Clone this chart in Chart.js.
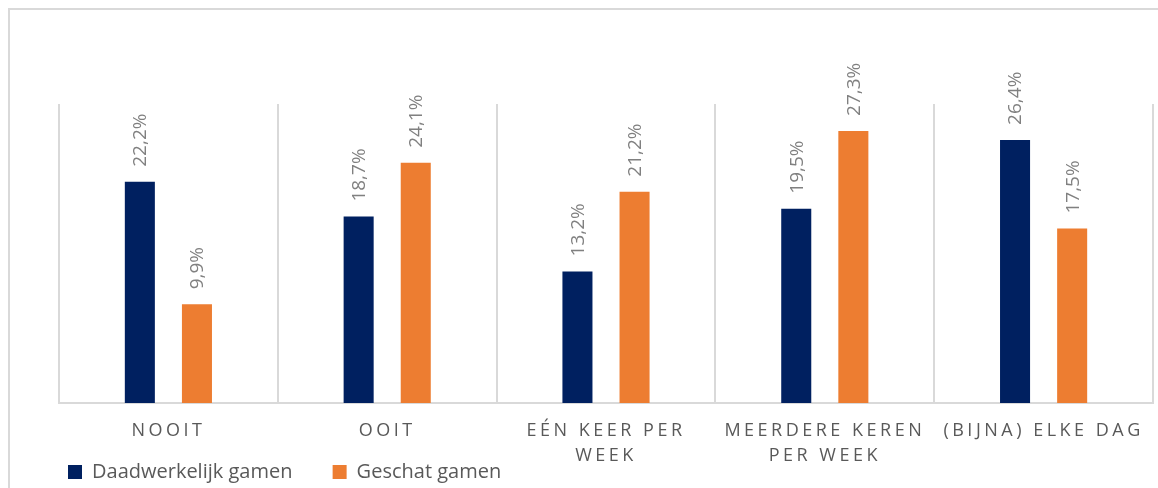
<!DOCTYPE html>
<html>
<head>
<meta charset="utf-8">
<script src="https://cdn.jsdelivr.net/npm/chart.js@4"></script>
<style>
  html, body { margin: 0; padding: 0; background: #fff; }
  #wrap { position: relative; width: 1158px; height: 488px; overflow: hidden; }
  #frame { position: absolute; left: 8px; top: 8px; width: 1300px; height: 600px; border: 2px solid #d9d9d9; }
  canvas { position: absolute; left: 0; top: 0; }
</style>
</head>
<body>
<div id="wrap">
  <div id="frame"></div>
  <canvas id="gamen" width="1158" height="488"></canvas>
</div>
<script>
// categorieen en waarden (in %)
const categories = ['NOOIT', 'OOIT', ['EÉN KEER PER', 'WEEK'], ['MEERDERE KEREN', 'PER WEEK'], '(BIJNA) ELKE DAG'];
const daadwerkelijk = [22.2, 18.7, 13.2, 19.5, 26.4];
const geschat = [9.9, 24.1, 21.2, 27.3, 17.5];
const seriesNames = ['Daadwerkelijk gamen', 'Geschat gamen'];

// category as usual, but with letter spacing on the tick labels
// and no clipping (second label line runs into the legend row)
class SpacedCategory extends Chart.CategoryScale {
  _computeLabelArea() {
    return undefined;
  }
  drawLabels(area) {
    this.ctx.save();
    this.ctx.letterSpacing = '3.5px';
    super.drawLabels(area);
    this.ctx.restore();
  }
}
SpacedCategory.id = 'spacedCategory';
SpacedCategory.defaults = Chart.CategoryScale.defaults;
Chart.register(SpacedCategory);

// rotated value labels above the bars
const valueLabels = {
  id: 'valueLabels',
  afterDatasetsDraw(chart) {
    const ctx = chart.ctx;
    ctx.save();
    ctx.fillStyle = '#808080';
    ctx.font = '19px "Open Sans"';
    ctx.textAlign = 'left';
    ctx.textBaseline = 'middle';
    chart.data.datasets.forEach((ds, i) => {
      chart.getDatasetMeta(i).data.forEach((bar, j) => {
        var txt = ds.data[j].toFixed(1).replace('.', ',') + '%';
        ctx.save();
        ctx.translate(bar.x + 1, bar.y - 15);
        ctx.rotate(-Math.PI / 2);
        ctx.fillText(txt, 0, 0);
        ctx.restore();
      });
    });
    ctx.restore();
  }
};

new Chart(document.getElementById('gamen'), {
  type: 'bar',
  data: {
    labels: categories,
    datasets: [
      { label: seriesNames[0], data: daadwerkelijk, backgroundColor: '#002060' },
      { label: seriesNames[1], data: geschat, backgroundColor: '#ED7D31' }
    ]
  },
  options: {
    responsive: false,
    animation: false,
    categoryPercentage: 0.522,
    barPercentage: 0.526,
    layout: { padding: { top: 104, left: 59, right: 5, bottom: -4 } },
    scales: {
      x: {
        type: 'spacedCategory',
        grid: { color: '#d9d9d9', lineWidth: 2, drawTicks: false, offset: true },
        border: { color: '#d9d9d9', width: 2 },
        ticks: {
          color: '#595959',
          font: { family: 'Open Sans', size: 18, lineHeight: 1.4 },
          padding: 15,
          maxRotation: 0,
          autoSkip: false
        },
        afterFit: (scale) => { scale.height = 50; }
      },
      y: {
        display: false,
        min: 0,
        max: 30
      }
    },
    plugins: {
      legend: {
        position: 'bottom',
        align: 'start',
        labels: {
          boxWidth: 14,
          boxHeight: 14,
          padding: 9,
          color: '#595959',
          font: { family: 'Open Sans', size: 20 },
          generateLabels: (chart) => {
            var items = Chart.defaults.plugins.legend.labels.generateLabels(chart);
            items[0].text = items[0].text + '      ';
            return items;
          }
        }
      },
      tooltip: { enabled: false }
    }
  },
  plugins: [valueLabels]
});
</script>
</body>
</html>
